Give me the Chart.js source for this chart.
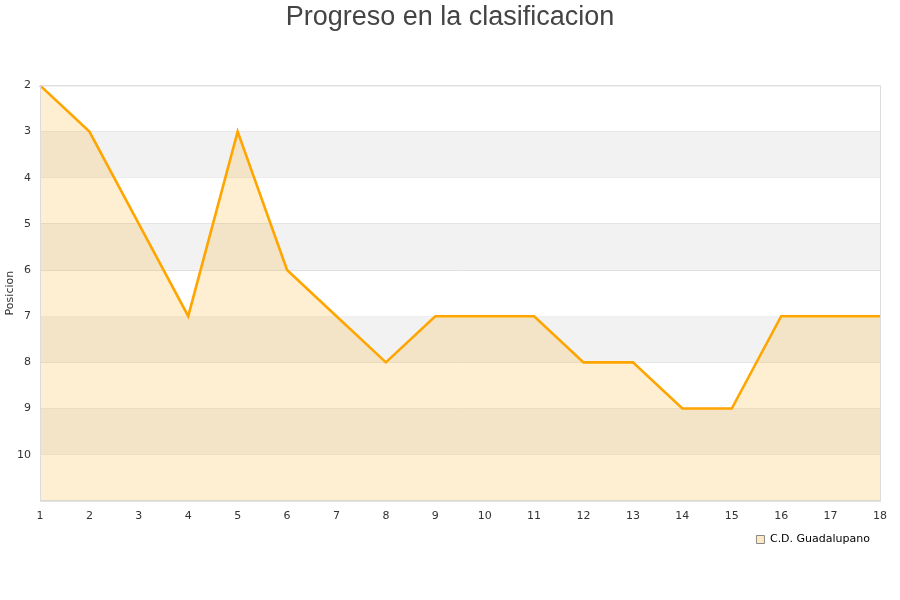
<!DOCTYPE html>
<html>
<head>
<meta charset="utf-8">
<script src="https://cdn.jsdelivr.net/npm/chart.js@4/dist/chart.umd.min.js"></script>
<style>
  html, body { margin: 0; padding: 0; background: #fff; }
  #wrap { width: 900px; height: 600px; }
</style>
</head>
<body>
<div id="wrap"><canvas id="myChart" width="900" height="600"></canvas></div>
<script>
// jornadas y posiciones
const jornadas = ["1","2","3","4","5","6","7","8","9","10","11","12","13","14","15","16","17","18"];
const posiciones = [2, 3, 5, 7, 3, 6, 7, 8, 7, 7, 7, 8, 8, 9, 9, 7, 7, 7];
const equipo = "C.D. Guadalupano";
const titulo = "Progreso en la clasificacion";
// franjas grises (desde, hasta)
const franjas = [[3, 4], [5, 6], [7, 8], [9, 10]];

const bandas = {
  id: "bandas",
  beforeDatasetsDraw(chart) {
    const { ctx, chartArea, scales } = chart;
    ctx.save();
    ctx.fillStyle = "#f2f2f2";
    franjas.forEach(([a, b]) => {
      const y1 = scales.y.getPixelForValue(a);
      const y2 = scales.y.getPixelForValue(b);
      ctx.fillRect(chartArea.left, y1, chartArea.right - chartArea.left, y2 - y1);
    });
    ctx.restore();
  },
  afterDraw(chart) {
    const { ctx, chartArea } = chart;
    ctx.save();
    ctx.strokeStyle = "#dcdcdc";
    ctx.lineWidth = 1;
    ctx.strokeRect(chartArea.left + 0.5, chartArea.top + 0.5,
      chartArea.right - chartArea.left, chartArea.bottom - chartArea.top);
    ctx.restore();
  }
};

const config = {
  type: "line",
  data: {
    labels: jornadas,
    datasets: [{
      label: equipo,
      data: posiciones,
      borderColor: "#ffa500",
      backgroundColor: "rgba(255, 175, 30, 0.2)",
      borderWidth: 2.6,
      pointRadius: 0,
      tension: 0,
      fill: { value: 11 }
    }]
  },
  options: {
    responsive: false,
    animation: false,
    layout: { padding: { left: 0, right: 0, top: 0, bottom: 45 } },
    plugins: {
      title: {
        display: true,
        text: titulo,
        color: "#444",
        font: { family: "Liberation Sans", size: 27, weight: "normal" },
        padding: { top: 1, bottom: 52 }
      },
      legend: {
        position: "bottom",
        align: "end",
        fullSize: false,
        labels: {
          boxWidth: 8,
          boxHeight: 8,
          color: "#000",
          font: { family: "DejaVu Sans", size: 11 },
          generateLabels(chart) {
            const items = Chart.defaults.plugins.legend.labels.generateLabels(chart);
            items.forEach((it) => {
              it.fillStyle = "#fde9c4";
              it.strokeStyle = "#888";
              it.lineWidth = 1;
            });
            return items;
          }
        }
      },
      tooltip: { enabled: false }
    },
    scales: {
      x: {
        offset: false,
        grid: { display: false },
        border: { display: true, color: "#dcdcdc" },
        ticks: { color: "#333", font: { family: "DejaVu Sans", size: 11 }, maxRotation: 0, padding: 1 }
      },
      y: {
        reverse: true,
        min: 2,
        max: 11,
        grid: { color: "#e0e0e0", drawTicks: false },
        border: { display: true, color: "#dcdcdc" },
        afterFit(scale) { scale.width = 40; },
        ticks: {
          stepSize: 1,
          color: "#333",
          padding: 9,
          font: { family: "DejaVu Sans", size: 11 },
          callback: (v) => (v === 11 ? "" : v)
        },
        title: {
          display: true,
          text: "Posicion",
          color: "#333",
          font: { family: "DejaVu Sans", size: 11 },
          padding: { top: 4, bottom: 0 }
        }
      },
      y2: {
        position: "right",
        display: true,
        grid: { display: false },
        border: { display: false },
        ticks: { display: false },
        afterFit(scale) { scale.width = 20; }
      }
    }
  },
  plugins: [bandas]
};

const myChart = document.getElementById("myChart");
new Chart(myChart, config);
</script>
</body>
</html>
